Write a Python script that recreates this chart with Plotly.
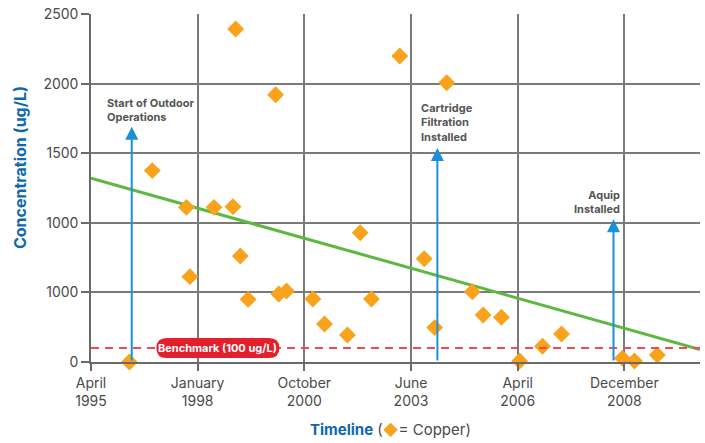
import plotly.graph_objects as go

# x = years since April 1995 (each labelled tick is 2.75 units apart)
copper_x = [0.99, 1.58, 2.46, 2.55, 3.17, 3.66, 3.73, 3.85, 4.05, 4.76, 4.84, 5.04,
            5.72, 6.02, 6.61, 6.94, 7.23, 7.96, 8.59, 8.86, 9.17, 9.83, 10.11, 10.58,
            11.05, 11.64, 12.13, 13.70, 14.01, 14.60]
copper_y = [0, 1375, 1111, 613, 1111, 1115, 2392, 761, 450, 1920, 488, 510,
            453, 273, 194, 929, 453, 2198, 742, 247, 2006, 505, 338, 321,
            7, 113, 201, 27, 7, 50]

trend_x = [0, 15.7]
trend_y = [1320, 90]

benchmark = 100
benchmark_label = "Benchmark (100 ug/L)"
benchmark_label_x = 3.27

tick_vals = [0, 2.75, 5.5, 8.25, 11.0, 13.75]
tick_text = ["April<br>1995", "January<br>1998", "October<br>2000", "June<br>2003",
             "April<br>2006", "December<br>2008"]
y_tick_vals = [0, 500, 1000, 1500, 2000, 2500]
y_tick_text = ["0", "1000", "1000", "1500", "2000", "2500"]

event_x = [1.05, 8.93, 13.47]
event_top = [1690, 1537, 1025]
event_text = ["Start of Outdoor<br>Operations", "Cartridge<br>Filtration<br>Installed",
              "Aquip<br>Installed"]
event_text_x = [0.36, 8.46, 13.68]
event_text_y = [1810, 1724, 1153]
event_anchor = ["left", "left", "right"]

FONT = "Inter"
GRAY = "#4a4a4a"
BLUE = "#0E68AE"
ARROW = "#1B8FD8"
ORANGE = "#F9A21B"

fig = go.Figure()
fig.add_trace(go.Scatter(x=trend_x, y=trend_y, mode="lines",
                         line=dict(color="#5CB83E", width=3), hoverinfo="skip",
                         showlegend=False))
fig.add_trace(go.Scatter(x=copper_x, y=copper_y, mode="markers",
                         marker=dict(symbol="diamond", size=13, color=ORANGE),
                         cliponaxis=False, showlegend=False))

shapes = [
    dict(type="line", xref="paper", x0=0, x1=1, yref="y", y0=benchmark, y1=benchmark,
         line=dict(color="#EF4B57", width=2, dash="8px,6px"), layer="above"),
    dict(type="path", xref="x", yref="y", xsizemode="pixel", ysizemode="pixel",
         xanchor=benchmark_label_x, yanchor=benchmark,
         path="M -51,-10 H 51 Q 61.5,-10 61.5,0 Q 61.5,10 51,10 H -51 Q -61.5,10 -61.5,0 Q -61.5,-10 -51,-10 Z",
         fillcolor="#E41E2B", line=dict(width=0), layer="above"),
]

annotations = [
    dict(x=benchmark_label_x, y=benchmark, xref="x", yref="y", text="<b>" + benchmark_label + "</b>",
         showarrow=False, font=dict(family=FONT, size=11, color="white")),
    dict(x=-0.1166, y=0.56, xref="paper", yref="paper", textangle=-90,
         xanchor="center", yanchor="middle",
         text="<b>Concentration (ug/L)</b>", showarrow=False,
         font=dict(family=FONT, size=16, color=BLUE)),
    dict(x=0.491, y=-0.195, xref="paper", yref="paper", xanchor="center", yanchor="middle",
         text="<b><span style='color:%s'>Timeline</span></b> (<span style='color:%s'>◆</span>= Copper)" % (BLUE, ORANGE),
         showarrow=False, font=dict(family=FONT, size=15, color=GRAY)),
]
for ex, et, txt, tx, ty, anc in zip(event_x, event_top, event_text, event_text_x, event_text_y, event_anchor):
    annotations.append(dict(x=ex, y=et, ax=ex, ay=0, xref="x", yref="y", axref="x", ayref="y",
                            text="", showarrow=True, arrowhead=2, arrowsize=1.3,
                            arrowwidth=2, arrowcolor=ARROW, standoff=0, startstandoff=0))
    annotations.append(dict(x=tx, y=ty, xref="x", yref="y",
                            text="<b>" + txt.replace("<br>", "</b><br><b>") + "</b>",
                            showarrow=False, xanchor=anc, align=anc,
                            font=dict(family=FONT, size=11, color="#555555")))

fig.update_layout(
    width=705, height=443,
    margin=dict(l=91, r=5, t=14, b=81, autoexpand=False),
    plot_bgcolor="white", paper_bgcolor="white",
    font=dict(family=FONT, size=14, color=GRAY),
    shapes=shapes, annotations=annotations,
    xaxis=dict(range=[0, 15.7], tickvals=tick_vals, ticktext=tick_text,
               showgrid=True, gridcolor="#7a7a7a", gridwidth=1.5,
               showline=True, linecolor="#6a6a6a", linewidth=1.5,
               ticks="outside", ticklen=7, tickcolor="#6a6a6a", tickwidth=1.5,
               zeroline=False, ticklabeloverflow="allow", automargin=False,
               tickfont=dict(family=FONT, size=14, color=GRAY)),
    yaxis=dict(range=[0, 2500], tickvals=y_tick_vals, ticktext=y_tick_text,
               showgrid=True, gridcolor="#7a7a7a", gridwidth=1.5,
               showline=True, linecolor="#6a6a6a", linewidth=1.5,
               ticks="outside", ticklen=8, tickcolor="#6a6a6a", tickwidth=1.5,
               zeroline=False, ticklabeloverflow="allow", automargin=False,
               tickfont=dict(family=FONT, size=14, color=GRAY)),
)

fig.write_html("out.html", config={"displayModeBar": False},
               post_script="document.body.style.margin='0px';")
